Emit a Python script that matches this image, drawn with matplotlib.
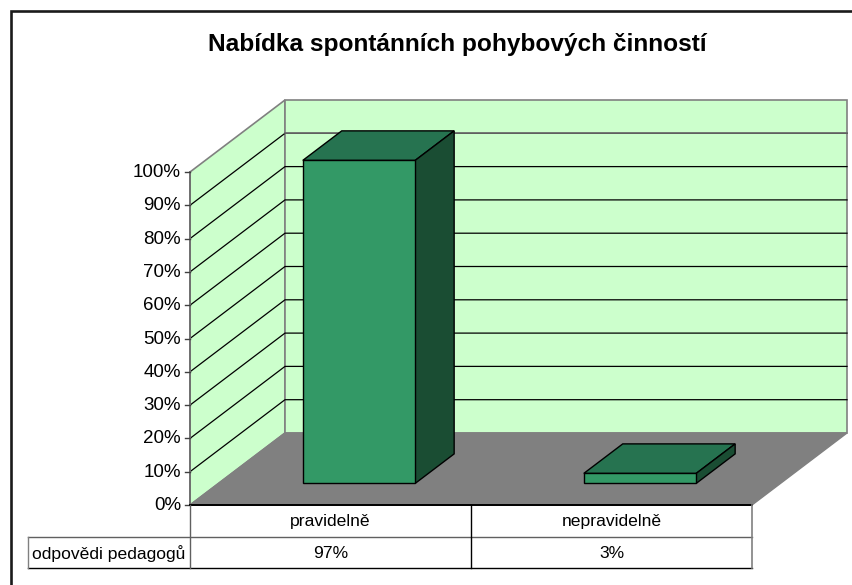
import matplotlib
matplotlib.use("Agg")
import matplotlib.pyplot as plt
from matplotlib.patches import Polygon

plt.rcParams['font.family'] = ['Liberation Sans', 'DejaVu Sans']

title = "Nabídka spontánních pohybových činností"
categories = ["pravidelně", "nepravidelně"]
series_name = "odpovědi pedagogů"
values = [97, 3]
ticks = [0, 10, 20, 30, 40, 50, 60, 70, 80, 90, 100]

# layout in pixels
left, right = 190, 752
y0, y100 = 505, 172
dx, dy = 95, -72   # depth of the 3d box
bar_frac = 0.4     # bar width / category width
gap_depth = 0.30   # where the bar starts on the floor
bar_depth = 0.41


def ypix(v):
    return y0 + (y100 - y0) * v / 100


def poly(ax, pts, fc, ec='black', lw=1.0, z=2):
    ax.add_patch(Polygon(pts, closed=True, facecolor=fc, edgecolor=ec, linewidth=lw, zorder=z, joinstyle='miter'))


fig = plt.figure(figsize=(8.52, 5.85), dpi=100)
ax = fig.add_axes([0, 0, 1, 1])
ax.set_xlim(0, 852)
ax.set_ylim(585, 0)
ax.axis('off')

# chart frame, only top and left are in the crop
ax.plot([10.5, 10.5, 852], [585, 11, 11], color='#1a1a1a', lw=1.9, zorder=0, solid_joinstyle='miter')

ax.text(457, 44, title, ha='center', va='center', fontsize=17.6, fontweight='bold', color='black')

# walls and floor
poly(ax, [(left, y0), (left + dx, y0 + dy), (left + dx, y100 + dy), (left, y100)], '#CCFFCC', '#808080', 1.2, 1)
poly(ax, [(left + dx, y0 + dy), (right + dx, y0 + dy), (right + dx, y100 + dy), (left + dx, y100 + dy)], '#CCFFCC', '#808080', 1.2, 1)
poly(ax, [(left, y0), (right, y0), (right + dx, y0 + dy), (left + dx, y0 + dy)], '#808080', '#808080', 1.0, 1)

# gridlines
for t in ticks[1:-1]:
    y = ypix(t)
    ax.plot([left, left + dx, right + dx], [y, y + dy, y + dy], color='black', lw=0.9, zorder=1.5)
y = ypix(90)
ax.plot([left + dx, right + dx], [y + dy, y + dy], color='#707070', lw=1.2, zorder=1.6)

# y axis
ax.plot([left, left], [y100, y0], color='#707070', lw=1.4, zorder=3)
for t in ticks:
    y = ypix(t)
    ax.plot([left - 5, left], [y, y], color='#404040', lw=1.0, zorder=3)
    ax.text(left - 9, y + 0.5, f"{t}%", ha='right', va='center', fontsize=13.5, color='black')

# bars
cat_w = (right - left) / len(categories)
for i, v in enumerate(values):
    bw = cat_w * bar_frac
    xa = left + cat_w * (i + 0.5) - bw / 2 + dx * gap_depth
    xb = xa + bw
    yb = y0 + dy * gap_depth
    yt = yb - (y0 - ypix(v))
    ox, oy = dx * bar_depth, dy * bar_depth
    poly(ax, [(xa, yt), (xb, yt), (xb + ox, yt + oy), (xa + ox, yt + oy)], '#267350')
    poly(ax, [(xb, yt), (xb + ox, yt + oy), (xb + ox, yb + oy), (xb, yb)], '#1A4D33')
    poly(ax, [(xa, yt), (xb, yt), (xb, yb), (xa, yb)], '#339966')

# data table
row1, row2 = 537, 568
tab_left = 28
ax.plot([left, right], [y0, y0], color='black', lw=1.4, zorder=4)
ax.plot([tab_left, right], [row1, row1], color='#606060', lw=1.0, zorder=4)
ax.plot([tab_left, right], [row2, row2], color='black', lw=1.0, zorder=4)
ax.plot([tab_left, tab_left], [row1, row2], color='#808080', lw=1.0, zorder=4)
ax.plot([left, left], [y0, row2], color='#606060', lw=1.0, zorder=4)
ax.plot([right, right], [y0, row2], color='#808080', lw=1.2, zorder=4)
for i, (c, v) in enumerate(zip(categories, values)):
    xc = left + cat_w * (i + 0.5)
    if i > 0:
        ax.plot([left + cat_w * i] * 2, [y0, row2], color='black', lw=1.0, zorder=4)
    ax.text(xc, (y0 + row1) / 2 + 0.5, c, ha='center', va='center', fontsize=12.6, color='black')
    ax.text(xc, (row1 + row2) / 2 + 1.5, f"{v}%", ha='center', va='center', fontsize=12.6, color='black')
ax.text(32, (row1 + row2) / 2 + 1.5, series_name, ha='left', va='center', fontsize=12.6, color='black')

fig.savefig('out.png', dpi=100)
